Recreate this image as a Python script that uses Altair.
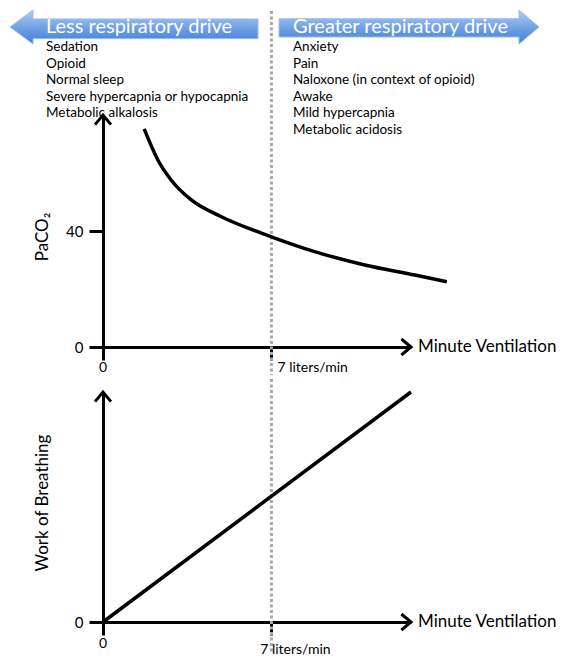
import altair as alt
import pandas as pd

# ---------------- data ----------------
vent_curve = [1.71, 2.28, 2.83, 3.67, 4.92, 7.0, 8.79, 10.88, 12.96, 14.29]
paco2_curve = [75.2, 64.5, 57.6, 50.7, 44.9, 38.0, 32.9, 28.3, 24.8, 22.5]

wob_vent = [0.0, 12.8]
wob_values = [0.0, 10.0]

x_max = 12.8
paco2_max = 80
wob_max = 10

x_tick_values = [0, 7]
x_tick_labels = ["0", "7 liters/min"]
paco2_ticks = [0, 40]
wob_ticks = [0]

less_title = "Less respiratory drive"
greater_title = "Greater respiratory drive"
less_list = ["Sedation", "Opioid", "Normal sleep",
             "Severe hypercapnia or hypocapnia", "Metabolic alkalosis"]
greater_list = ["Anxiety", "Pain", "Naloxone (in context of opioid)", "Awake",
                "Mild hypercapnia", "Metabolic acidosis"]

FONT = "Lato"
W = 308

curve_df = pd.DataFrame({"v": vent_curve, "p": paco2_curve})
wob_df = pd.DataFrame({"v": wob_vent, "w": wob_values})
one = pd.DataFrame({"k": [0]})

x_scale = alt.Scale(domain=[0, x_max], nice=False, zero=False)
xa = alt.Axis(values=x_tick_values, labels=False, tickSize=13, tickWidth=3,
              tickColor="black", domainColor="black", domainWidth=3,
              grid=False, title=None)


def y_axis(vals):
    return alt.Axis(values=vals, tickSize=14, tickWidth=3, tickColor="black",
                    labelFontSize=15, labelPadding=6, labelFont=FONT,
                    labelColor="black", domainColor="black", domainWidth=3,
                    grid=False, title=None)


grad = alt.LinearGradient(
    gradient="linear", x1=0, y1=0, x2=0, y2=1,
    stops=[alt.GradientStop(offset=0, color="#b3cdf3"),
           alt.GradientStop(offset=0.5, color="#73a3e6"),
           alt.GradientStop(offset=1, color="#3f7fd6")])

LEFT_ARROW = ("M-7.294,0 L-5.941,-1 L-5.941,-0.474 L7.294,-0.474 "
              "L7.294,0.684 L-5.941,0.684 L-5.941,1 Z")
RIGHT_ARROW = ("M-7.647,-0.487 L6.471,-0.487 L6.471,-1 L7.647,0 L6.471,1 "
               "L6.471,0.590 L-7.647,0.590 Z")
CHEV_RIGHT = "M-1.2,-1 L0,0 L-1.2,1"
CHEV_UP = "M-1,1.2 L0,0 L1,1.2"


def panel(df, yfield, y_max, yticks, ytitle, title_y, dot_top, dot_bottom,
          curve_interp):
    ys = alt.Scale(domain=[0, y_max], nice=False, zero=False)
    ya = y_axis(yticks)
    X = lambda f: alt.X(f, type="quantitative", scale=x_scale, axis=xa)
    Y = lambda f: alt.Y(f, type="quantitative", scale=ys, axis=ya)

    tick_df = pd.DataFrame({"v": x_tick_values, "lab": x_tick_labels, "z": [0, 0]})
    end_df = pd.DataFrame({"v": [x_max], "z": [0]})
    top_df = pd.DataFrame({"v": [0], "z": [y_max]})

    dotted = alt.Chart(tick_df.iloc[[1]]).mark_rule(
        color="#a9a9a9", strokeDash=[3, 2.5], strokeWidth=3
    ).encode(x=X("v"), y=alt.value(dot_top), y2=alt.value(dot_bottom))

    line = alt.Chart(df).mark_line(
        color="black", strokeWidth=3.5, interpolate=curve_interp
    ).encode(x=X("v"), y=Y(yfield))

    arrow_r = alt.Chart(end_df).mark_point(
        shape=CHEV_RIGHT, size=256, filled=False, color="black",
        strokeWidth=3, opacity=1
    ).encode(x=X("v"), y=Y("z"))
    arrow_u = alt.Chart(top_df).mark_point(
        shape=CHEV_UP, size=256, filled=False, color="black",
        strokeWidth=3, opacity=1
    ).encode(x=X("v"), y=Y("z"))

    xname = alt.Chart(end_df).mark_text(
        text="Minute Ventilation", font=FONT, fontSize=17, align="left",
        baseline="middle", dx=7, color="black"
    ).encode(x=X("v"), y=Y("z"))

    ytitle_mark = alt.Chart(one).mark_text(
        text=ytitle, font=FONT, fontSize=17, angle=270, align="center",
        baseline="middle", color="black"
    ).encode(x=alt.value(-60), y=alt.value(title_y))

    return [dotted, line, arrow_r, arrow_u, xname, ytitle_mark], X, Y, tick_df


# ---------------- top panel ----------------
top_layers, Xt, Yt, tick_df = panel(curve_df, "p", paco2_max, paco2_ticks,
                                    "PaCO\u2082", 122, -104, 260, "monotone")

top_lab0 = alt.Chart(tick_df.iloc[[0]]).mark_text(
    font=FONT, fontSize=14, align="center", baseline="middle", dy=21, color="black"
).encode(x=Xt("v"), y=Yt("z"), text="lab:N")
top_lab7 = alt.Chart(tick_df.iloc[[1]]).mark_text(
    font=FONT, fontSize=14, align="left", baseline="middle", dx=6, dy=21, color="black"
).encode(x=Xt("v"), y=Yt("z"), text="lab:N")

banner_l = alt.Chart(one).mark_point(
    shape=LEFT_ARROW, size=1156, filled=True, fill=grad, stroke="#9dbdea",
    strokeWidth=1, opacity=1
).encode(x=alt.value(31), y=alt.value(-88))
banner_r = alt.Chart(one).mark_point(
    shape=RIGHT_ARROW, size=1156, filled=True, fill=grad, stroke="#9dbdea",
    strokeWidth=1, opacity=1
).encode(x=alt.value(306), y=alt.value(-88))

banner_l_txt = alt.Chart(one).mark_text(
    text=less_title, font=FONT, fontSize=20, color="white", align="left",
    baseline="middle"
).encode(x=alt.value(-57), y=alt.value(-88))
banner_r_txt = alt.Chart(one).mark_text(
    text=greater_title, font=FONT, fontSize=20, color="white", align="left",
    baseline="middle"
).encode(x=alt.value(190), y=alt.value(-88))

list_df = pd.DataFrame({"l": ["\n".join(less_list)], "g": ["\n".join(greater_list)]})
less_txt = alt.Chart(list_df).mark_text(
    font=FONT, fontSize=13.5, lineHeight=16.6, lineBreak="\n", align="left",
    baseline="alphabetic", color="black"
).encode(x=alt.value(-57), y=alt.value(-64), text="l:N")
greater_txt = alt.Chart(list_df).mark_text(
    font=FONT, fontSize=13.5, lineHeight=16.6, lineBreak="\n", align="left",
    baseline="alphabetic", color="black"
).encode(x=alt.value(190), y=alt.value(-64), text="g:N")

top = alt.layer(*top_layers, top_lab0, top_lab7, banner_l, banner_r,
                banner_l_txt, banner_r_txt, less_txt, greater_txt
                ).properties(width=W, height=232)

# ---------------- bottom panel ----------------
bot_layers, Xb, Yb, tick_df_b = panel(wob_df, "w", wob_max, wob_ticks,
                                      "Work of Breathing", 111, -13, 260,
                                      "linear")
bot_lab0 = alt.Chart(tick_df_b.iloc[[0]]).mark_text(
    font=FONT, fontSize=14, align="center", baseline="middle", dy=22, color="black"
).encode(x=Xb("v"), y=Yb("z"), text="lab:N")
bot_lab7 = alt.Chart(tick_df_b.iloc[[1]]).mark_text(
    font=FONT, fontSize=14, align="center", baseline="middle", dx=24, dy=28,
    color="black"
).encode(x=Xb("v"), y=Yb("z"), text="lab:N")

bottom = alt.layer(*bot_layers, bot_lab0, bot_lab7).properties(width=W, height=230)

chart = alt.vconcat(top, bottom, spacing=0).properties(
    padding=0, background="white"
).configure(font=FONT).configure_view(stroke=None)

chart.save("out.html", embed_options={"renderer": "svg", "actions": False})
